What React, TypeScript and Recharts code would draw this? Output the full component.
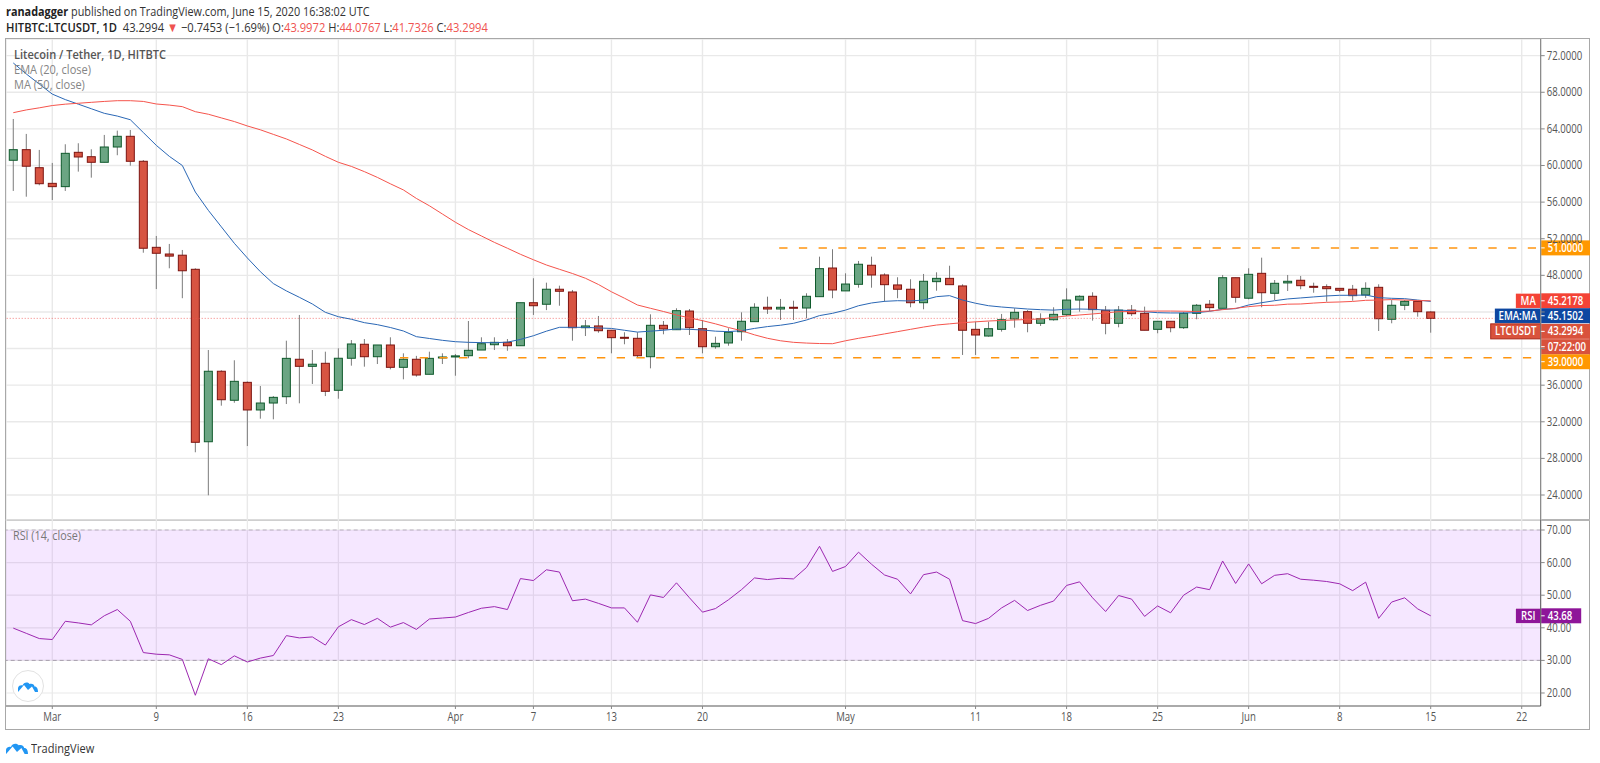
import { ComposedChart, Bar, Line, XAxis, YAxis, CartesianGrid, ReferenceLine, ReferenceArea } from 'recharts'

const FONT = '"Open Sans", sans-serif'

// one entry per trading day, day 0 = Mar 1 2020
const days = Array.from({ length: 110 }, (_, i) => i - 3)

const opens = [
  60.57, 61.73, 59.76, 58.05, 57.69, 61.44, 60.96, 60.35, 62.02, 63.19,
  60.46, 51.06, 50.33, 50.2, 48.66, 29.82, 37.52, 34.35, 36.31, 33.29,
  34.05, 34.74, 38.83, 38.06, 38.39, 35.44, 38.94, 40.47, 39.11, 40.39,
  37.95, 38.83, 37.19, 39.0, 39.08, 39.22, 39.84, 40.42, 40.68, 40.31,
  45.01, 44.84, 46.48, 46.18, 42.28, 42.47, 42.0, 41.23, 41.12, 39.11,
  42.54, 42.06, 44.1, 42.17, 40.2, 40.61, 41.84, 42.94, 44.51, 44.32,
  44.51, 44.43, 45.67, 48.8, 46.3, 47.02, 49.1, 48.04, 46.95, 46.48,
  45.01, 47.31, 47.67, 46.84, 42.1, 41.37, 42.1, 43.23, 44.03, 42.76,
  43.15, 43.7, 45.3, 45.71, 44.18, 42.76, 44.2, 43.85, 42.1, 42.98,
  42.28, 43.85, 44.84, 44.4, 47.74, 45.5, 48.22, 46.04, 47.17, 47.46,
  46.8, 46.76, 46.58, 46.48, 45.85, 46.69, 43.2, 44.73, 45.16, 43.9972,
]
const highs = [
  65.08, 63.45, 61.7, 60.28, 62.32, 62.43, 61.77, 63.34, 63.81, 63.88,
  60.6, 52.3, 51.43, 50.77, 48.77, 39.84, 37.63, 38.72, 36.4, 35.91,
  34.81, 40.86, 43.67, 39.84, 39.66, 40.03, 40.93, 41.04, 40.39, 41.23,
  39.48, 39.2, 39.66, 39.48, 39.4, 43.01, 41.23, 41.23, 41.04, 45.01,
  47.68, 47.2, 46.87, 46.4, 43.12, 43.56, 42.0, 41.78, 41.78, 43.74,
  43.01, 44.4, 44.32, 43.12, 41.3, 42.22, 43.96, 44.95, 45.67, 45.42,
  45.23, 46.04, 50.04, 50.85, 48.22, 49.57, 50.04, 48.22, 47.79, 47.57,
  48.15, 48.33, 49.05, 47.02, 42.94, 42.94, 43.78, 44.4, 44.2, 43.85,
  44.51, 46.58, 45.82, 46.15, 44.65, 44.65, 44.76, 44.58, 42.98, 42.98,
  44.03, 44.87, 45.3, 48.04, 47.74, 48.77, 49.93, 47.49, 48.04, 47.93,
  47.2, 47.02, 46.58, 46.95, 47.24, 47.02, 45.3, 45.3, 45.16, 44.0767,
]
const lows = [
  57.22, 56.59, 57.84, 56.23, 57.22, 59.33, 58.67, 60.35, 61.12, 59.98,
  50.47, 46.5, 48.77, 45.5, 28.67, 23.97, 33.76, 34.08, 29.35, 32.34,
  32.27, 33.94, 34.02, 36.13, 34.81, 34.52, 38.13, 38.02, 38.31, 37.73,
  36.64, 36.93, 37.19, 38.31, 37.03, 38.94, 39.84, 39.84, 39.76, 40.31,
  43.67, 44.2, 44.68, 40.86, 41.37, 41.73, 39.48, 40.47, 39.0, 37.84,
  41.56, 42.06, 41.48, 39.48, 39.98, 40.31, 40.86, 42.94, 43.78, 43.12,
  43.12, 43.3, 45.67, 45.5, 46.3, 46.65, 46.65, 45.12, 45.5, 44.51,
  44.29, 46.32, 46.98, 39.3, 39.3, 41.3, 41.85, 42.28, 41.78, 42.47,
  43.05, 43.56, 44.03, 43.05, 41.56, 42.32, 43.56, 42.0, 41.67, 41.78,
  42.14, 43.2, 44.1, 44.4, 45.01, 45.38, 44.51, 45.3, 46.29, 46.48,
  46.1, 45.12, 46.15, 45.23, 45.53, 41.92, 42.76, 44.2, 43.48, 41.7326,
]
const closes = [
  61.73, 59.92, 58.01, 57.69, 61.33, 60.93, 60.35, 62.02, 63.19, 60.46,
  50.96, 50.41, 50.1, 48.5, 29.76, 37.52, 34.41, 36.42, 33.29, 34.05,
  34.67, 38.93, 38.06, 38.29, 35.33, 38.94, 40.5, 39.11, 40.39, 37.95,
  38.83, 37.11, 38.93, 39.08, 39.2, 39.81, 40.53, 40.68, 40.31, 45.01,
  44.68, 46.48, 46.26, 42.28, 42.47, 41.95, 41.19, 41.2, 39.22, 42.54,
  42.14, 44.14, 42.28, 40.2, 40.57, 41.78, 42.98, 44.51, 44.32, 44.51,
  44.44, 45.71, 48.73, 46.4, 47.05, 49.21, 48.04, 46.98, 46.48, 45.01,
  47.35, 47.67, 46.98, 42.0, 41.48, 42.17, 43.15, 43.96, 42.76, 43.26,
  43.74, 45.3, 45.71, 44.25, 42.76, 44.2, 43.81, 42.0, 42.98, 42.28,
  43.85, 44.73, 44.47, 47.74, 45.6, 48.11, 46.1, 47.13, 47.35, 46.87,
  46.75, 46.54, 46.37, 45.78, 46.58, 43.26, 44.73, 45.16, 44.03, 43.2994,
]
const ema = [
  71.2, 70.0, 68.9, 67.8, 67.2, 66.7, 66.2, 65.7, 65.4, 65.0,
  63.6, 62.2, 61.0, 60.0, 57.1, 55.1, 53.3, 51.5, 49.9, 48.4,
  47.1, 46.3, 45.6, 44.87, 43.96, 43.48, 43.2, 42.83, 42.61, 42.3,
  41.92, 41.3, 41.1, 40.9, 40.75, 40.68, 40.65, 40.64, 40.7, 41.0,
  41.4, 41.9, 42.32, 42.32, 42.32, 42.25, 42.2, 42.0, 41.8, 41.9,
  42.0, 42.14, 42.1, 42.03, 41.9, 41.85, 41.95, 42.2, 42.4, 42.55,
  42.76, 43.12, 43.6, 43.85, 44.2, 44.68, 44.98, 45.16, 45.23, 45.2,
  45.3, 45.67, 45.78, 45.3, 44.95, 44.68, 44.54, 44.43, 44.32, 44.25,
  44.2, 44.29, 44.32, 44.29, 44.2, 44.2, 44.14, 44.03, 43.92, 43.89,
  43.89, 43.92, 44.07, 44.29, 44.36, 44.76, 45.01, 45.23, 45.42, 45.53,
  45.64, 45.75, 45.82, 45.82, 45.85, 45.56, 45.49, 45.45, 45.3, 45.1502,
]
const ma = [
  65.77, 66.07, 66.3, 66.55, 66.7, 66.8, 66.9, 67.0, 67.08, 67.08,
  67.0, 66.72, 66.6, 66.43, 65.88, 65.6, 65.2, 64.8, 64.32, 63.9,
  63.4, 62.9, 62.3, 61.7, 61.0, 60.35, 59.9, 59.33, 58.7, 58.0,
  57.33, 56.4, 55.6, 54.7, 53.8, 53.0, 52.3, 51.6, 50.96, 50.3,
  49.7, 49.13, 48.66, 48.2, 47.68, 47.0, 46.2, 45.5, 44.76, 44.4,
  44.05, 43.67, 43.35, 43.05, 42.7, 42.3, 41.95, 41.5, 41.12, 40.85,
  40.68, 40.6, 40.55, 40.53, 40.85, 41.12, 41.35, 41.6, 41.85, 42.1,
  42.35, 42.57, 42.7, 42.83, 42.92, 43.01, 43.07, 43.12, 43.18, 43.23,
  43.4, 43.56, 43.67, 43.78, 43.9, 44.03, 44.05, 44.08, 44.1, 44.1,
  44.08, 44.05, 44.1, 44.25, 44.4, 44.58, 44.7, 44.73, 44.85, 44.87,
  44.97, 45.05, 45.09, 45.15, 45.27, 45.3, 45.35, 45.3, 45.25, 45.2178,
]
const rsi = [
  39.9, 38.3, 36.7, 36.4, 42.0, 41.5, 40.9, 43.7, 45.6, 42.0,
  32.4, 31.9, 31.7, 30.3, 19.3, 30.5, 28.7, 31.4, 29.5, 30.7,
  31.5, 37.6, 36.9, 37.2, 34.7, 40.3, 42.5, 41.0, 42.9, 40.2,
  41.6, 39.5, 42.7, 43.0, 43.3, 44.7, 46.0, 46.5, 45.6, 55.1,
  54.5, 57.8, 57.1, 48.3, 48.8, 47.5, 46.1, 46.1, 41.7, 50.1,
  49.3, 53.8, 49.2, 44.8, 45.9, 48.6, 51.7, 55.3, 54.8, 55.2,
  55.0, 58.5, 65.0, 57.3, 58.8, 63.2, 59.5, 56.2, 54.9, 50.4,
  56.3, 57.1, 54.9, 42.2, 41.3, 42.9, 46.1, 48.4, 45.3, 46.9,
  48.2, 53.0, 54.1, 49.2, 45.0, 49.9, 48.8, 43.5, 46.7, 44.6,
  50.0, 52.5, 51.7, 60.5, 53.6, 59.6, 53.5, 56.1, 56.6, 54.9,
  54.6, 54.2, 53.5, 51.4, 54.0, 42.9, 47.9, 49.2, 45.8, 43.68,
]

const xTicks = [0, 8, 15, 22, 31, 37, 43, 50, 61, 71, 78, 85, 92, 99, 106, 113]
const xLabels = ['Mar', '9', '16', '23', 'Apr', '7', '13', '20', 'May', '11', '18', '25', 'Jun', '8', '15', '22']
const priceTicks = [24, 28, 32, 36, 40, 44, 48, 52, 56, 60, 64, 68, 72]
const rsiTicks = [20, 30, 40, 50, 60, 70]
// these axis labels sit behind the price flags in the picture
const coveredTicks = [40, 44]

const LAST_MA = 45.2178
const LAST_EMA = 45.1502
const LAST_CLOSE = 43.2994
const LAST_RSI = 43.68
const RESIST = 51
const SUPPORT = 39

const priceRows = days.map((day, i) => ({
  day,
  open: opens[i],
  high: highs[i],
  low: lows[i],
  close: closes[i],
  range: [lows[i], highs[i]],
  ema: ema[i],
  ma: ma[i],
}))
const rsiRows = days.map((day, i) => ({ day, rsi: rsi[i] }))

const X_DOMAIN: [number, number] = [-3.56, 114.46]
const GRID = '#e9e9e9'
const AXIS_TEXT = '#555'
// the picture's lettering is narrower than any installed face, so squeeze it
const SQUEEZE = 0.8

function Candle({ x, y, width, height, payload }: any) {
  const { open, high, low, close } = payload
  const up = close >= open
  const perUnit = height / (high - low)
  const yOf = (v: number) => y + (high - v) * perUnit
  const top = yOf(Math.max(open, close))
  const bottom = yOf(Math.min(open, close))
  const cx = x + width / 2
  return (
    <g>
      <line x1={cx} x2={cx} y1={y} y2={y + height} stroke="#7b7b7b" strokeWidth={1} />
      <rect
        x={x + 0.5}
        y={top}
        width={width - 1}
        height={Math.max(bottom - top, 1)}
        fill={up ? '#6ba583' : '#d75442'}
        stroke={up ? '#0f5a2c' : '#7c1410'}
        strokeWidth={1}
      />
    </g>
  )
}

function YTick({ x, y, payload, digits, hidden = [] }: any) {
  if (hidden.includes(payload.value)) return <g />
  return (
    <g transform={`translate(${x},${y + 4}) scale(${SQUEEZE},1)`}>
      <text fontSize={12} fill={AXIS_TEXT} fontFamily={FONT}>{payload.value.toFixed(digits)}</text>
    </g>
  )
}

function XTick({ x, y, payload }: any) {
  return (
    <g transform={`translate(${x},${y + 10}) scale(${SQUEEZE},1)`}>
      <text fontSize={12} fill={AXIS_TEXT} fontFamily={FONT} textAnchor="middle">{xLabels[xTicks.indexOf(payload.value)]}</text>
    </g>
  )
}

// coloured price flag in the right axis, optionally with a title box to its left
function Tag({ viewBox, text, title, color, border, dy = 0, w = 49, titleW = 0 }: any) {
  const ax = viewBox.x + viewBox.width
  const cy = viewBox.y + dy
  return (
    <g fontFamily={FONT} fontSize={12} fill="#fff" fontWeight={600}>
      {title && <rect x={ax - titleW} y={cy - 7.5} width={titleW} height={15} fill={color} stroke={border ?? '#fff'} strokeWidth={border ? 1 : 0.5} />}
      {title && (
        <g transform={`translate(${ax - titleW / 2},${cy + 4}) scale(${SQUEEZE},1)`}>
          <text textAnchor="middle">{title}</text>
        </g>
      )}
      <rect x={ax + 0.5} y={cy - 7.5} width={w} height={15} fill={color} />
      <line x1={ax} x2={ax + 4} y1={cy} y2={cy} stroke="#fff" />
      <g transform={`translate(${ax + 7},${cy + 4}) scale(${SQUEEZE},1)`}>
        <text>{text}</text>
      </g>
    </g>
  )
}

function Logo({ size = 22 }: { size?: number }) {
  return (
    <svg width={size} height={size * 0.55} viewBox="0 0 40 22">
      <path
        d="M0 22 L0 14 C1 9 6 8 9 9 C11 3 19 1 23 6 C28 4 33 7 33 11 C37 11 40 14 40 22 L34 22 L28 11 L20 18 L12 8 Z"
        fill="#2196f3"
      />
    </svg>
  )
}

const red = { color: '#ef5350' }
const squeezed = (sx: number) => ({ transform: `scaleX(${sx})`, transformOrigin: 'left center' })

export default function App() {
  return (
    <div style={{ position: 'relative', width: 1600, height: 763, background: '#fff', overflow: 'hidden', fontFamily: FONT }}>
      <style>{'body{margin:0}'}</style>

      <div style={{ position: 'absolute', left: 6, top: 2, fontSize: 13, lineHeight: '18px', color: '#333', whiteSpace: 'nowrap', ...squeezed(0.835) }}>
        <b style={{ color: '#222' }}>ranadagger</b> published on TradingView.com, June 15, 2020 16:38:02 UTC
      </div>
      <div style={{ position: 'absolute', left: 6, top: 18, fontSize: 13, lineHeight: '18px', color: '#333', whiteSpace: 'nowrap', ...squeezed(0.86) }}>
        <b style={{ fontWeight: 600, color: '#222' }}>HITBTC:LTCUSDT, 1D</b>&nbsp; 43.2994 <span style={red}>▼</span> −0.7453 (−1.69%) O:<span style={red}>43.9972</span> H:<span style={red}>44.0767</span> L:<span style={red}>41.7326</span> C:<span style={red}>43.2994</span>
      </div>

      {/* outer frame */}
      <div style={{ position: 'absolute', left: 5, top: 38, width: 1585, height: 692, border: '1.5px solid #a8a8a8', boxSizing: 'border-box' }} />
      <div style={{ position: 'absolute', left: 5, top: 519, width: 1585, height: 2, background: '#b4b4b4' }} />

      <div style={{ position: 'absolute', left: 6, top: 39 }}>
        <ComposedChart width={1584} height={481} data={priceRows} margin={{ top: 0, right: 0, bottom: 0, left: 0 }}>
          <CartesianGrid stroke={GRID} strokeWidth={1.4} />
          <XAxis dataKey="day" type="number" domain={X_DOMAIN} ticks={xTicks} allowDataOverflow hide />
          <YAxis
            orientation="right"
            width={49.3}
            domain={[21.27, 73.82]}
            ticks={priceTicks}
            interval={0}
            allowDataOverflow
            tick={<YTick digits={4} hidden={coveredTicks} />}
            tickLine={{ stroke: '#888' }}
            tickSize={4}
            axisLine={{ stroke: '#777' }}
          />
          <ReferenceLine y={LAST_CLOSE} stroke="#ef5350" strokeOpacity={0.75} strokeDasharray="1 2" />
          <ReferenceLine
            segment={[{ x: 26.74, y: SUPPORT }, { x: 114.1, y: SUPPORT }]}
            stroke="#ff9510"
            strokeWidth={1.5}
            strokeDasharray="8.3 11.4"
          />
          <ReferenceLine
            segment={[{ x: 55.9, y: RESIST }, { x: 114.1, y: RESIST }]}
            stroke="#ff9510"
            strokeWidth={1.5}
            strokeDasharray="8.3 11.4"
          />
          <Line dataKey="ema" stroke="#2a67b5" strokeWidth={1} dot={false} isAnimationActive={false} />
          <Line dataKey="ma" stroke="#f5544c" strokeWidth={1} dot={false} isAnimationActive={false} />
          <Bar dataKey="range" barSize={9} shape={<Candle />} isAnimationActive={false} />
          <ReferenceLine y={RESIST} stroke="none" label={<Tag text={RESIST.toFixed(4)} color="#ff9800" />} />
          <ReferenceLine y={SUPPORT} stroke="none" label={<Tag text={SUPPORT.toFixed(4)} color="#ff9800" dy={4} />} />
          <ReferenceLine y={LAST_MA} stroke="none" label={<Tag text={LAST_MA.toFixed(4)} title="MA" titleW={25} color="#f44336" />} />
          <ReferenceLine y={LAST_EMA} stroke="none" label={<Tag text={LAST_EMA.toFixed(4)} title="EMA:MA" titleW={46} color="#0d47a1" dy={14.3} />} />
          <ReferenceLine y={LAST_CLOSE} stroke="none" label={<Tag text={LAST_CLOSE.toFixed(4)} title="LTCUSDT" titleW={50} color="#d9523c" border="#a8281a" dy={13} />} />
          <ReferenceLine y={LAST_CLOSE} stroke="none" label={<Tag text="07:22:00" color="#d9523c" dy={28.3} />} />
        </ComposedChart>
      </div>

      <div style={{ position: 'absolute', left: 14, top: 45, fontSize: 13, lineHeight: '18px', color: '#555', whiteSpace: 'nowrap', ...squeezed(0.85) }}>
        <div style={{ fontWeight: 600 }}>Litecoin / Tether, 1D, HITBTC</div>
        <div style={{ color: '#858585', marginTop: -3 }}>EMA (20, close)</div>
        <div style={{ color: '#858585', marginTop: -3 }}>MA (50, close)</div>
      </div>

      <div style={{ position: 'absolute', left: 6, top: 520 }}>
        <ComposedChart width={1584} height={210} data={rsiRows} margin={{ top: 0, right: 0, bottom: 0, left: 0 }}>
          <CartesianGrid stroke={GRID} strokeWidth={1.2} />
          <XAxis
            dataKey="day"
            type="number"
            domain={X_DOMAIN}
            ticks={xTicks}
            interval={0}
            allowDataOverflow
            height={24}
            tick={<XTick />}
            tickLine={{ stroke: '#888' }}
            tickSize={3}
            axisLine={{ stroke: '#aaa', strokeWidth: 2 }}
          />
          <YAxis
            orientation="right"
            width={49.3}
            domain={[16.01, 73.07]}
            ticks={rsiTicks}
            interval={0}
            allowDataOverflow
            tick={<YTick digits={2} />}
            tickLine={{ stroke: '#888' }}
            tickSize={4}
            axisLine={{ stroke: '#555' }}
          />
          <ReferenceArea y1={30} y2={70} fill="#9915ff" fillOpacity={0.1} stroke="none" />
          <ReferenceLine y={70} stroke="#b9b0bf" strokeDasharray="4 3" />
          <ReferenceLine y={30} stroke="#a79fad" strokeDasharray="4 3" />
          <Line dataKey="rsi" stroke="#9c27b0" strokeWidth={1} dot={false} isAnimationActive={false} />
          <ReferenceLine y={LAST_RSI} stroke="none" label={<Tag text={LAST_RSI.toFixed(2)} title="RSI" titleW={25} color="#8e1599" w={40} />} />
        </ComposedChart>
      </div>

      <div style={{ position: 'absolute', left: 13, top: 527, fontSize: 12.5, lineHeight: '18px', color: '#777', whiteSpace: 'nowrap', ...squeezed(0.86) }}>RSI (14, close)</div>

      <div style={{ position: 'absolute', left: 12, top: 670, width: 30, height: 30, borderRadius: '50%', background: '#fff', border: '1px solid #e2e2e2', display: 'flex', alignItems: 'center', justifyContent: 'center' }}>
        <Logo size={20} />
      </div>

      <div style={{ position: 'absolute', left: 6, top: 739, display: 'flex', alignItems: 'center', gap: 3 }}>
        <Logo size={22} />
        <span style={{ fontSize: 13, color: '#333', display: 'inline-block', ...squeezed(0.85) }}>TradingView</span>
      </div>
    </div>
  )
}
